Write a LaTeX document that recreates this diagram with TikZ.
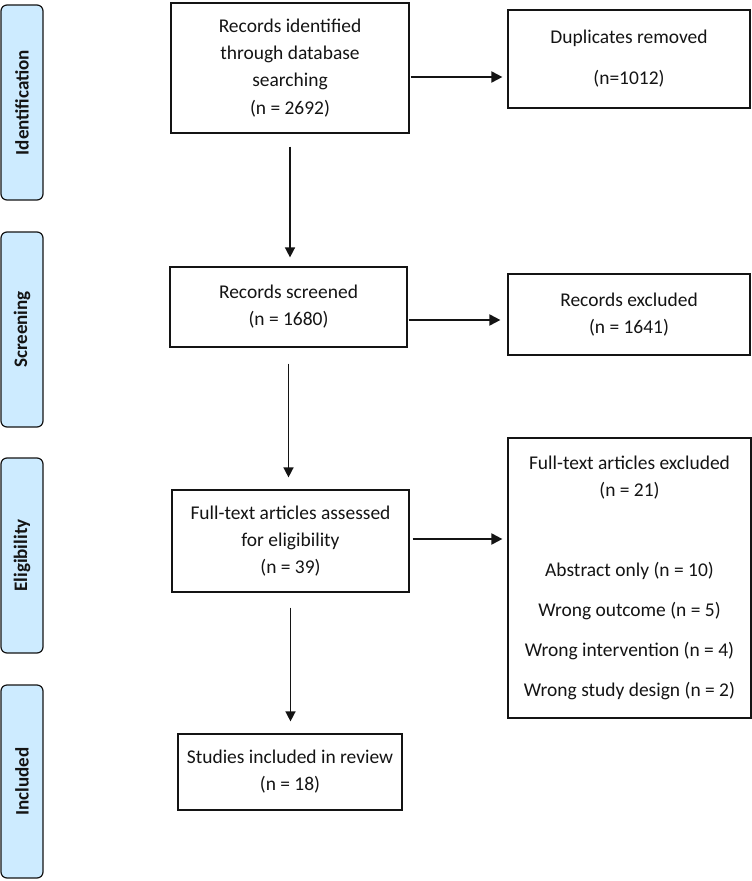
\documentclass[tikz,border=0pt]{standalone}
\usepackage{fontspec}
\setmainfont{Carlito}
\usetikzlibrary{arrows.meta}
\definecolor{sidefill}{RGB}{205,235,255}
\definecolor{inkc}{RGB}{20,20,20}
\begin{document}
\begin{tikzpicture}[x=0.75pt,y=-0.75pt,
  box/.style={draw=inkc, line width=0.9pt, align=center, inner sep=0pt, text=inkc,
    font=\fontsize{14.6}{20.3}\selectfont},
  side/.style={draw=inkc, line width=0.9pt, rounded corners=4.5pt, fill=sidefill,
    rotate=90, inner sep=0pt, minimum height=31.5pt, text=inkc,
    font=\bfseries\fontsize{14.3}{17}\selectfont},
  harr/.style={-{Triangle[length=8.25pt,width=8.25pt]}, line width=1.5pt, draw=inkc},
  varr/.style={-{Triangle[length=7.5pt,width=7.5pt]}, line width=1.1pt, draw=inkc}
]
\useasboundingbox (0,0) rectangle (752,881);
% side labels
\node[side, minimum width=146.25pt] (sid) at (22,102.5) {Identification};
\node[side, minimum width=146.25pt] (ssc) at (22,329.5) {Screening};
\node[side, minimum width=146.25pt] (sel) at (22,555.5) {Eligibility};
\node[side, minimum width=144.75pt] (sin) at (22,781.5) {Included};
% main boxes
\node[box, minimum width=178.5pt, minimum height=97.5pt] (rid) at (290,68)
  {Records identified\\through database\\searching\\(n = 2692)};
\node[box, minimum width=181.5pt, minimum height=73.5pt] (dup) at (629,59)
  {Duplicates removed\\[10.5pt](n=1012)};
\node[box, minimum width=177.75pt, minimum height=60pt] (scr) at (288.5,307)
  {Records screened\\(n = 1680)};
\node[box, minimum width=181.5pt, minimum height=60.75pt] (rex) at (629,314.5)
  {Records excluded\\(n = 1641)};
\node[box, minimum width=177.75pt, minimum height=76.5pt] (fta) at (290.5,541)
  {Full-text articles assessed\\for eligibility\\(n = 39)};
\node[box, minimum width=182.25pt, minimum height=210pt] (ftx) at (629.5,578)
  {Full-text articles excluded\\(n = 21)\\[39.75pt]Abstract only (n = 10)\\[9.75pt]Wrong outcome (n = 5)\\[9.75pt]Wrong intervention (n = 4)\\[9.75pt]Wrong study design (n = 2)};
\node[box, minimum width=168pt, minimum height=57pt] (stu) at (290,772)
  {Studies included in review\\(n = 18)};
% helper levels
\coordinate (y1) at (0,77);
\coordinate (y2) at (0,320);
\coordinate (y3) at (0,539);
% connectors
\draw[harr, shorten <=0.75pt, shorten >=3.75pt] (rid.east |- y1) -- (dup.west |- y1);
\draw[harr, shorten <=0.75pt, shorten >=5.25pt] (scr.east |- y2) -- (rex.west |- y2);
\draw[harr, shorten <=2.25pt, shorten >=3.75pt] (fta.east |- y3) -- (ftx.west |- y3);
\draw[varr, shorten <=9.75pt, shorten >=6.75pt] (rid.south) -- (rid.south |- scr.north);
\draw[varr, shorten <=12pt, shorten >=9pt] (scr.south) -- (scr.south |- fta.north);
\draw[varr, shorten <=11.25pt, shorten >=9pt] (fta.south) -- (fta.south |- stu.north);
\end{tikzpicture}
\end{document}
